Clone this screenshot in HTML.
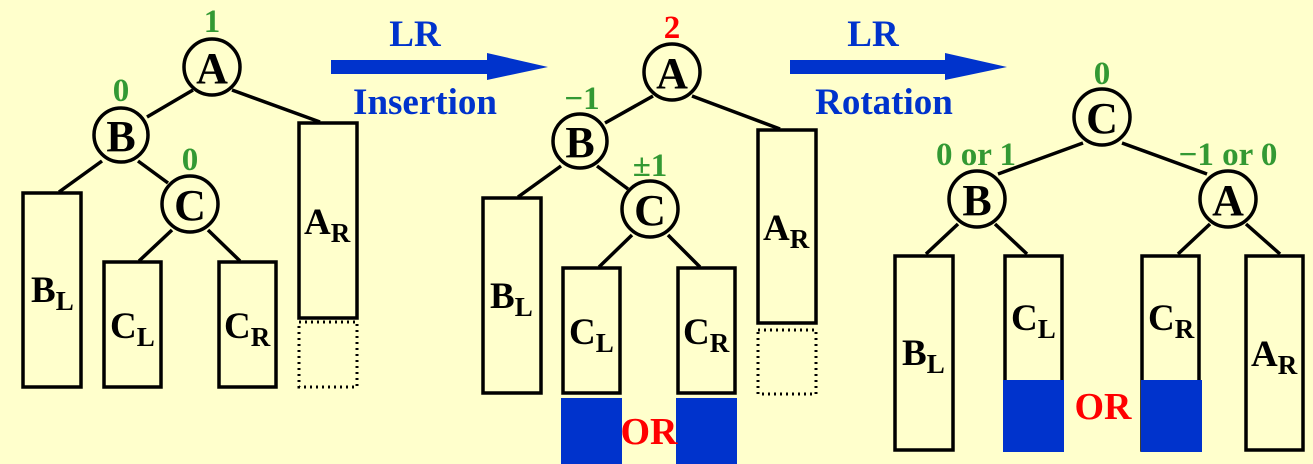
<!DOCTYPE html>
<html><head><style>
html,body{margin:0;padding:0;background:#FFFFCC;}
svg{display:block;}
text{font-family:"Liberation Serif",serif;font-weight:bold;}
.n{font-size:44px;fill:#000;text-anchor:middle;}
.s{font-size:27px;}
.g{font-size:33px;fill:#339933;text-anchor:middle;}
.r{fill:#FF0000;}
.b{fill:#0033CC;font-size:37px;text-anchor:middle;}
</style></head><body>
<svg width="1313" height="464" viewBox="0 0 1313 464" xmlns="http://www.w3.org/2000/svg">
<rect width="1313" height="464" fill="#FFFFCC"/>
<g stroke="#000" stroke-width="3.5" fill="none">
<line x1="193" y1="90" x2="147" y2="117"/><line x1="232" y1="90" x2="320" y2="122"/>
<line x1="102" y1="161" x2="59" y2="192"/><line x1="138" y1="161" x2="168" y2="183"/>
<line x1="172" y1="230" x2="139" y2="261"/><line x1="208" y1="230" x2="240" y2="261"/>
<rect x="23" y="193" width="58" height="194"/>
<rect x="104" y="262" width="57" height="125"/>
<rect x="219" y="262" width="57" height="125"/>
<rect x="299" y="123" width="58" height="195"/>
<line x1="653" y1="96" x2="605" y2="123"/><line x1="692" y1="96" x2="780" y2="129"/>
<line x1="561" y1="166" x2="518" y2="197"/><line x1="597" y1="166" x2="628" y2="189"/>
<line x1="632" y1="235" x2="599" y2="267"/><line x1="668" y1="235" x2="700" y2="267"/>
<rect x="483" y="198" width="58" height="195"/>
<rect x="563" y="268" width="57" height="125"/>
<rect x="678" y="268" width="57" height="125"/>
<rect x="758" y="130" width="58" height="193"/>
<line x1="1083" y1="143" x2="998" y2="174"/><line x1="1122" y1="143" x2="1207" y2="174"/>
<line x1="958" y1="224" x2="926" y2="254"/><line x1="995" y1="224" x2="1027" y2="254"/>
<line x1="1210" y1="224" x2="1178" y2="254"/><line x1="1246" y1="224" x2="1280" y2="254"/>
<rect x="895" y="256" width="58" height="194"/>
<rect x="1005" y="256" width="57" height="194"/>
<rect x="1142" y="256" width="57" height="194"/>
<rect x="1246" y="256" width="57" height="194"/>
</g>
<g stroke="#000" stroke-width="3" fill="none" stroke-dasharray="2,4">
<rect x="299" y="322" width="58" height="65"/>
<rect x="758" y="330" width="58" height="64"/>
</g>
<g fill="#0033CC">
<rect x="561" y="398" width="61" height="66"/><rect x="676" y="398" width="61" height="66"/>
<rect x="1003" y="380" width="61" height="72"/><rect x="1141" y="380" width="61" height="72"/>
<rect x="331" y="60" width="160" height="14"/><polygon points="487,53 548,67 487,80"/>
<rect x="790" y="60" width="160" height="14"/><polygon points="945,53 1007,67 945,80"/>
</g>
<g stroke="#000" stroke-width="3.5" fill="#FFFFCC">
<circle cx="212" cy="67" r="28"/><circle cx="121" cy="135" r="27"/><circle cx="190" cy="204" r="28"/>
<circle cx="672" cy="72" r="28"/><circle cx="580" cy="141" r="27"/><circle cx="650" cy="209" r="28"/>
<circle cx="1102" cy="117" r="28"/><circle cx="977" cy="199" r="28"/><circle cx="1228" cy="199" r="28"/>
</g>
<g>
<text x="212" y="83" class="n">A</text><text x="121" y="151" class="n">B</text><text x="190" y="220" class="n">C</text>
<text x="672" y="88" class="n">A</text><text x="580" y="157" class="n">B</text><text x="650" y="225" class="n">C</text>
<text x="1102" y="133" class="n">C</text><text x="977" y="215" class="n">B</text><text x="1228" y="215" class="n">A</text>
</g>
<g font-size="37">
<text x="31" y="302">B<tspan class="s" dy="8">L</tspan></text>
<text x="110" y="338">C<tspan class="s" dy="8">L</tspan></text>
<text x="224" y="338">C<tspan class="s" dy="8">R</tspan></text>
<text x="304" y="234">A<tspan class="s" dy="8">R</tspan></text>
<text x="490" y="308">B<tspan class="s" dy="8">L</tspan></text>
<text x="569" y="344">C<tspan class="s" dy="8">L</tspan></text>
<text x="683" y="344">C<tspan class="s" dy="8">R</tspan></text>
<text x="763" y="240">A<tspan class="s" dy="8">R</tspan></text>
<text x="902" y="365">B<tspan class="s" dy="8">L</tspan></text>
<text x="1011" y="330">C<tspan class="s" dy="8">L</tspan></text>
<text x="1148" y="330">C<tspan class="s" dy="8">R</tspan></text>
<text x="1251" y="366">A<tspan class="s" dy="8">R</tspan></text>
</g>
<g>
<text x="212" y="32" class="g">1</text><text x="121" y="101" class="g">0</text><text x="190" y="170" class="g">0</text>
<text x="672" y="38" class="g r">2</text>
<text x="582" y="109" class="g">−1</text>
<text x="650" y="176" class="g">±1</text>
<text x="1102" y="84" class="g">0</text>
<text x="976" y="165" class="g">0 or 1</text>
<text x="1228" y="165" class="g">−1 or 0</text>
</g>
<text x="649" y="444" font-size="38" fill="#FF0000" text-anchor="middle">OR</text>
<text x="1103" y="419" font-size="38" fill="#FF0000" text-anchor="middle">OR</text>
<text x="415" y="46" class="b">LR</text>
<text x="425" y="114" class="b">Insertion</text>
<text x="873" y="46" class="b">LR</text>
<text x="884" y="114" class="b">Rotation</text>
</svg>
</body></html>
